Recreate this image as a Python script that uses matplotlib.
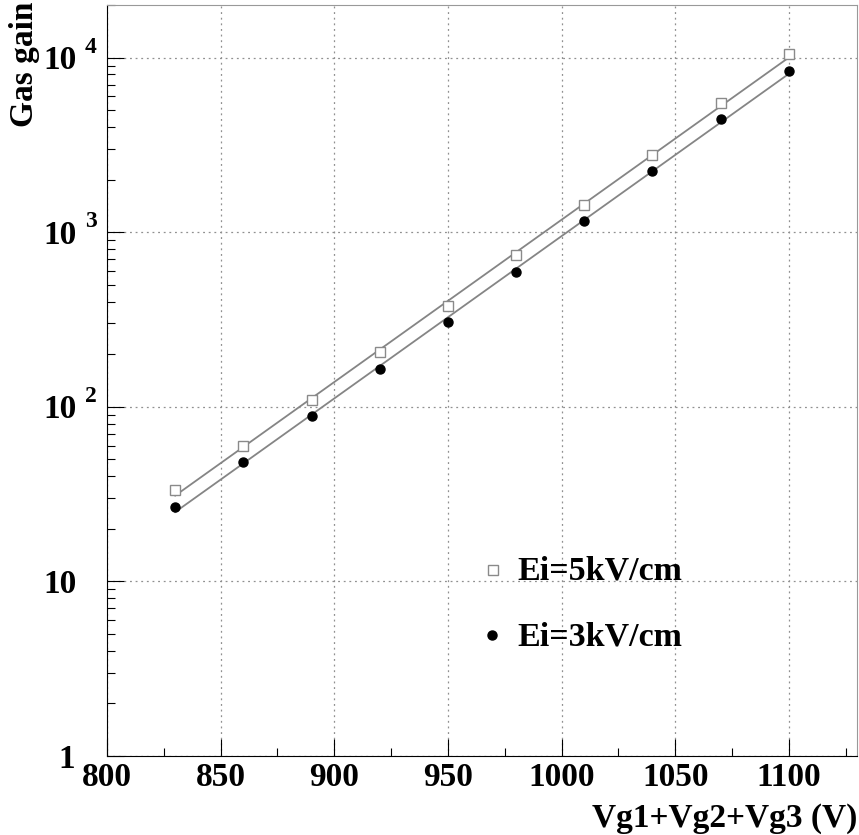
import numpy as np
import matplotlib.pyplot as plt
from matplotlib.ticker import FixedLocator, MultipleLocator, LogLocator, NullFormatter
from matplotlib.transforms import offset_copy

plt.rcParams['font.family'] = ['Liberation Serif', 'DejaVu Serif']
plt.rcParams['font.weight'] = 'bold'

# data
voltage = [830, 860, 890, 920, 950, 980, 1010, 1040, 1070, 1100]
gain_5kv = [33.5, 60, 110, 205, 378, 740, 1430, 2760, 5460, 10500]
gain_3kv = [26.8, 48.5, 89, 165, 306, 590, 1156, 2230, 4420, 8430]
legend_labels = ["Ei=5kV/cm", "Ei=3kV/cm"]
ytick_vals = [1, 10, 100, 1000, 10000]
ytick_base = ["1", "10", "10", "10", "10"]
ytick_exp = ["", "", "2", "3", "4"]

W, H = 859, 835
fig = plt.figure(figsize=(W / 100, H / 100), dpi=100)
ax = fig.add_axes([107 / W, 1 - 756 / H, 750 / W, 751 / H])

# exponential fit lines through each set
for g in (gain_5kv, gain_3kv):
    p = np.polyfit(voltage, np.log(g), 1)
    xs = np.array([voltage[0], voltage[-1]])
    ax.plot(xs, np.exp(np.polyval(p, xs)), color='#858585', lw=1.3, zorder=2)

ax.plot(voltage, gain_5kv, 's', ms=6.5, mfc='white', mec='#8a8a8a', mew=1.0, zorder=3)
ax.plot(voltage, gain_3kv, 'o', ms=6.5, color='black', zorder=3)

ax.set_yscale('log')
ax.set_xlim(800, 1130)
ax.set_ylim(1, 2e4)

ax.xaxis.set_major_locator(MultipleLocator(50))
ax.xaxis.set_minor_locator(MultipleLocator(25))
ax.yaxis.set_major_locator(FixedLocator(ytick_vals))
ax.yaxis.set_minor_locator(LogLocator(base=10, subs=np.arange(2, 10)))
ax.yaxis.set_minor_formatter(NullFormatter())
ax.set_yticklabels([])

ax.tick_params(which='both', direction='in', top=False, right=False)
ax.tick_params(which='major', length=12, width=0.8, labelsize=24, pad=4)
ax.tick_params(which='minor', length=6, width=0.8)
for lab in ax.get_xticklabels():
    lab.set_fontweight('bold')

ax.grid(True, which='major', ls=(0, (1.5, 3)), color='#909090', lw=0.9)

for s in ('top', 'right'):
    ax.spines[s].set_color('#999999')

# y tick labels in ROOT style: "10" with a raised exponent
ytr = ax.get_yaxis_transform()
for v, b, e in zip(ytick_vals, ytick_base, ytick_exp):
    xr = -0.043 if b == "1" else -0.04
    ax.text(xr, v, b, transform=offset_copy(ytr, fig, y=-11.5, units='dots'),
            ha='right', va='baseline', fontsize=24, fontweight='bold', clip_on=False)
    if e:
        ax.text(-0.0293, v, e, transform=offset_copy(ytr, fig, y=5, units='dots'),
                ha='left', va='baseline', fontsize=17, fontweight='bold', clip_on=False)

fig.text(857 / W, 1 - 818 / H, "Vg1+Vg2+Vg3 (V)", ha='right', va='center',
         fontsize=24, fontweight='bold')
fig.text(24 / W, 1 - 2 / H, "Gas gain", ha='center', va='top', rotation=90,
         fontsize=24, fontweight='bold')

# legend drawn by hand, no frame
fig.lines.append(plt.Line2D([493 / W], [1 - 569.5 / H], transform=fig.transFigure,
                            marker='s', ms=6.5, mfc='white', mec='#8a8a8a', mew=1.0, ls=''))
fig.lines.append(plt.Line2D([492 / W], [1 - 635 / H], transform=fig.transFigure,
                            marker='o', ms=6.5, color='black', ls=''))
fig.text(517 / W, 1 - 580 / H, legend_labels[0], fontsize=24.5, fontweight='bold',
         ha='left', va='baseline')
fig.text(517 / W, 1 - 646 / H, legend_labels[1], fontsize=24.5, fontweight='bold',
         ha='left', va='baseline')

fig.savefig("out.png", dpi=100)
